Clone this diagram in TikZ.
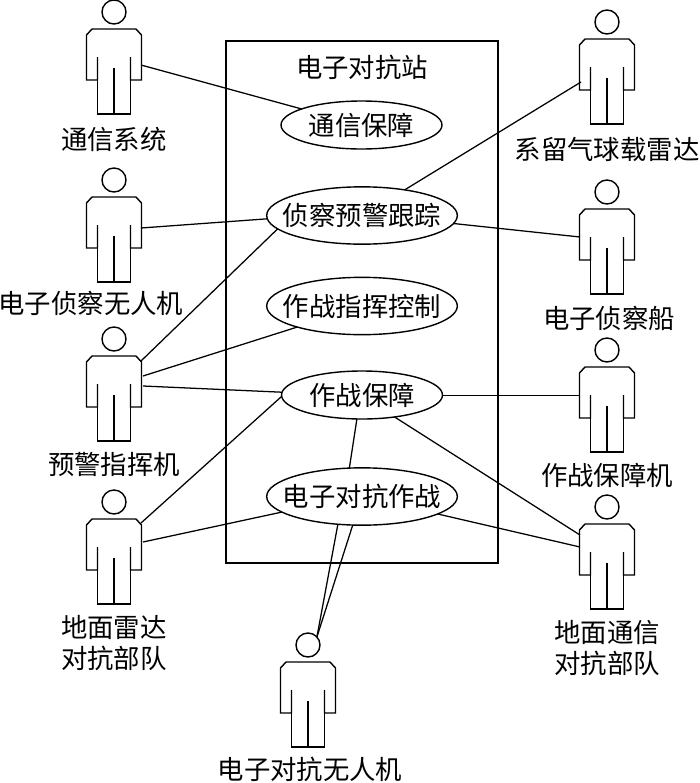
\documentclass[tikz,border=0pt]{standalone}
\usepackage{fontspec}
\setmainfont{Noto Sans CJK SC}
\usetikzlibrary{shapes.geometric}
\newcommand{\ctext}[1]{\makebox[0pt]{#1}}
\tikzset{
  x=0.75pt,y=-0.75pt,
  every picture/.style={line join=miter},
  stroke/.style={line width=1.05pt,black},
  usecase/.style={ellipse,draw,stroke,inner sep=0pt,outer sep=0pt,font=\fontsize{19.8}{23}\selectfont},
  smallcase/.style={usecase,minimum width=120.75pt,minimum height=36pt},
  widecase/.style={usecase,minimum width=143pt,minimum height=43pt},
  role/.style={font=\fontsize{19.8}{23.5}\selectfont,align=center,inner sep=0pt},
  headring/.style={circle,draw,stroke,inner sep=0pt,outer sep=0pt,minimum size=18pt},
  link/.style={line width=0.95pt,black},
  actor/.pic={
    \node[headring] (-head) at (0,0) {};
    \draw[stroke] (-16.5,45) -- (-16.5,68) -- (-27.5,68) -- (-27.5,23) -- (-22,17) -- (22,17) -- (27.5,23) -- (27.5,68) -- (16.5,68) -- (16.5,45);
    \draw[stroke] (-16.5,68) -- (-16.5,102) -- (16.5,102) -- (16.5,68);
    \draw[stroke] (0,56) -- (0,102);
  }
}
\begin{document}
\begin{tikzpicture}
\useasboundingbox (0,0) rectangle (700,783);
% system boundary
\node[draw,stroke,rectangle,inner sep=0pt,minimum width=204pt,minimum height=391.5pt] (sys) at (362,302) {};
\node[role] (title) at (362,67) {电子对抗站};
% use cases
\node[smallcase] (uc1) at (361.5,125) {\ctext{通信保障}};
\node[widecase] (uc2) at (362,215.5) {\ctext{侦察预警跟踪}};
\node[widecase] (uc3) at (362,306) {\ctext{作战指挥控制}};
\node[smallcase] (uc4) at (362,395) {\ctext{作战保障}};
\node[widecase] (uc5) at (362,496.5) {\ctext{电子对抗作战}};
% actors
\pic (a1) at (114,12) {actor};
\pic (a2) at (114,180) {actor};
\pic (a3) at (114,339) {actor};
\pic (a4) at (114,502) {actor};
\pic (b1) at (607,22) {actor};
\pic (b2) at (607,192) {actor};
\pic (b3) at (607,350) {actor};
\pic (b4) at (607,507) {actor};
\pic (c1) at (308,645) {actor};
% labels
\node[role] (l1) at (114,139) {通信系统};
\node[role] (l2) at (91,303) {电子侦察无人机};
\node[role] (l3) at (114,464) {预警指挥机};
\node[role] (l4) at (114,643) {地面雷达\\对抗部队};
\node[role] (l5) at (607,149) {系留气球载雷达};
\node[role] (l6) at (609,318) {电子侦察船};
\node[role] (l7) at (607,475) {作战保障机};
\node[role] (l8) at (607,648) {地面通信\\对抗部队};
\node[role] (l9) at (310,769) {电子对抗无人机};
% connector ends on the actors
\coordinate (p1) at (141,65);
\coordinate (p2) at (141,228);
\coordinate (p3) at (141,361);
\coordinate (p4) at (143,376);
\coordinate (p5) at (143,386);
\coordinate (p6) at (141,523);
\coordinate (p7) at (143,542);
\coordinate (q1) at (581,82);
\coordinate (q2) at (580,237);
\coordinate (q3) at (580,395.4);
\coordinate (q4) at (580,535);
\coordinate (q5) at (580,547);
% connectors
\draw[link] (p1) -- (uc1.165);
\draw[link] (p2) -- (uc2.182);
\draw[link] (p3) -- (uc2.189.7);
\draw[link] (p4) -- (uc3.198);
\draw[link] (p5) -- (uc4.178);
\draw[link] (p6) -- (uc4.181.5);
\draw[link] (p7) -- (uc5.191.6);
\draw[link] (q1) -- (uc2.31.6);
\draw[link] (q2) -- (uc2.355.4);
\draw[link] (q3) -- (uc4.east |- q3);
\draw[link] (q4) -- (uc4.326.7);
\draw[link] (q5) -- (uc5.347.6);
\draw[link] (uc4.258) -- (uc5.114.5);
\draw[link] (c1-head.42) -- (uc5.229.9);
\draw[link] (c1-head.42) -- (uc5.252.5);
\end{tikzpicture}
\end{document}
